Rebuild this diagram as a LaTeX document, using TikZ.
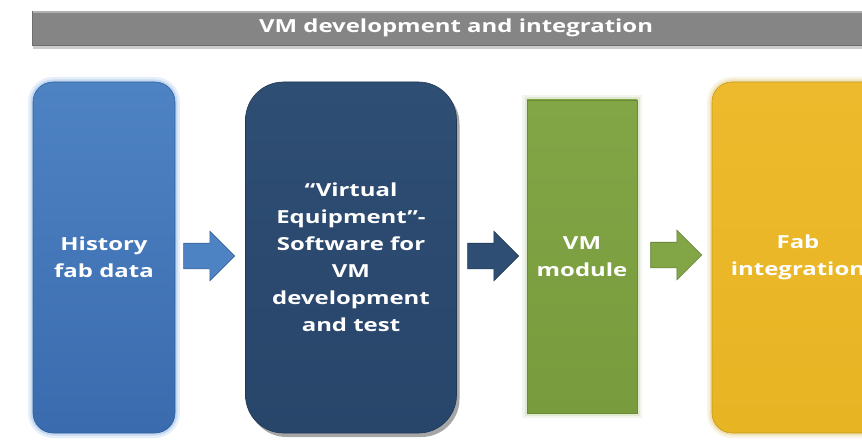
\documentclass[tikz,border=0pt]{standalone}
\usepackage{fontspec}
\setmainfont{Open Sans}[FakeStretch=1.33]
\usetikzlibrary{shapes.arrows,calc}
\definecolor{hdrgray}{HTML}{858585}
\definecolor{hdrlight}{HTML}{B0B0B0}
\definecolor{hdrdark}{HTML}{6E6E6E}
\definecolor{bluetop}{HTML}{4E83C3}
\definecolor{bluebot}{HTML}{3A6BAE}
\definecolor{blueglow}{HTML}{9CC0EA}
\definecolor{navytop}{HTML}{2F4E74}
\definecolor{navybot}{HTML}{28456A}
\definecolor{greentop}{HTML}{82A646}
\definecolor{greenbot}{HTML}{789C3D}
\definecolor{greenedge}{HTML}{6A8C35}
\definecolor{yellowtop}{HTML}{ECBA2C}
\definecolor{yellowbot}{HTML}{E7B424}
\definecolor{yellowglow}{HTML}{E8D08A}
\begin{document}
\begin{tikzpicture}[x=1pt,y=-1pt,
  boxtext/.style={text=white,font=\bfseries\fontsize{18}{27}\selectfont,align=center,inner sep=0pt},
  stage/.style={boxtext,minimum height=351pt},
  glow/.style={preaction={draw=#1,line width=10pt,opacity=0.25},
               preaction={draw=#1,line width=5pt,opacity=0.45}},
  darkshadow/.style={preaction={fill=black,opacity=0.35,transform canvas={xshift=3pt,yshift=-4pt}}},
  blockarrow/.style={single arrow,single arrow head extend=12pt,minimum height=51pt,
               inner xsep=0pt,inner ysep=12.5pt,anchor=west,
               draw=#1!75!black,line width=0.6pt,fill=#1},
]
\useasboundingbox (0,0) rectangle (862,441);
\clip (0,0) rectangle (862,441);
\fill[white] (0,0) rectangle (862,441);

% header bar
\fill[black,opacity=0.2] (33,46) rectangle (880,49);
\node[minimum width=848pt,minimum height=34pt,inner sep=0pt,
      fill=hdrgray,draw=hdrdark,line width=0.6pt,
      text=white,font=\bfseries\fontsize{18}{22}\selectfont] (hdr) at (456,28) {\raisebox{-2pt}{VM development and integration}};
\draw[hdrlight,line width=1.5pt] ($(hdr.north west)+(1,1.5)$) -- ($(hdr.north east)+(0,1.5)$);

% stages
\node[stage,minimum width=142pt,rounded corners=20pt,top color=bluetop,bottom color=bluebot,
      draw=bluebot!90!black,line width=0.6pt,glow=blueglow] (b1) at (104,257.5) {History\\fab data};
\node[stage,minimum width=211pt,rounded corners=38pt,top color=navytop,bottom color=navybot,
      draw=navybot!80!black,line width=0.6pt,darkshadow] (b2) at (351,257.5)
      {``Virtual\\Equipment''-\\Software for\\VM\\development\\and test};
\node[boxtext,minimum width=110pt,minimum height=313pt,top color=greentop,bottom color=greenbot,
      draw=greenedge,line width=0.8pt,glow=greentop!40!white] (b3) at (582,256.5) {VM\\module};
\node[stage,minimum width=172pt,rounded corners=20pt,top color=yellowtop,bottom color=yellowbot,
      draw=yellowbot!85!black,line width=0.6pt,glow=yellowglow] (b4) at (798,257.5) {Fab\\integration};

% arrows
\node[blockarrow=bluetop] (a1) at ($(b1.east)+(8,-1.5)$) {};
\node[blockarrow=navytop] (a2) at ($(b2.east)+(10.5,-1.5)$) {};
\node[blockarrow=greentop] (a3) at ($(b3.east)+(13,-1.5)$) {};
\end{tikzpicture}
\end{document}
